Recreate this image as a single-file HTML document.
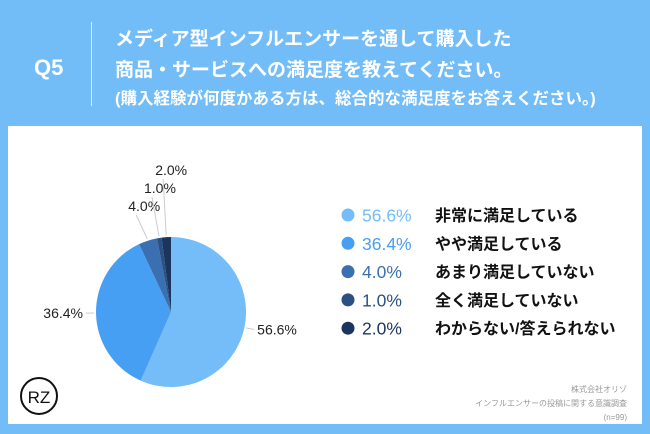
<!DOCTYPE html>
<html><head><meta charset="utf-8"><style>
body{margin:0;width:650px;height:434px;background:#72bdf8;overflow:hidden;font-family:"Liberation Sans","Noto Sans CJK JP",sans-serif;position:relative}
.a{position:absolute;white-space:nowrap}
</style></head><body>
<div class="a" style="left:34px;top:55px;color:#fff;font-size:22px;font-weight:bold">Q5</div>
<div class="a" style="left:91px;top:22px;width:1px;height:84px;background:#d6ecfd"></div>
<div class="a" style="left:115px;top:24px;color:#fff;font-size:19px;font-weight:bold;line-height:31px">メディア型インフルエンサーを通して購入した<br>商品・サービスへの満足度を教えてください。</div>
<div class="a" style="left:115px;top:85px;color:#fff;font-size:16.5px;font-weight:bold">(購入経験が何度かある方は、総合的な満足度をお答えください。)</div>
<div class="a" style="left:8px;top:126px;width:634px;height:298px;background:#fff"></div>
<svg class="a" style="left:0;top:0" width="650" height="434" id="svg"></svg>
<div class="a" style="right:23px;top:383px;text-align:right;color:#999;font-size:8px;line-height:14px">株式会社オリゾ<br>インフルエンサーの投稿に関する意識調査<br>(n=99)</div>
<script>
const categories=["非常に満足している","やや満足している","あまり満足していない","全く満足していない","わからない/答えられない"];
const values=[56.6,36.4,4.0,1.0,2.0];
const colors=["#74bdf8","#479ff4","#3a70b0","#2b5183","#1c355f"];
const svg=document.getElementById('svg');const NS="http://www.w3.org/2000/svg";
const cx=171,cy=312,r=75;
const total=values.reduce((a,b)=>a+b,0);
function pt(ang,rad){return [cx+rad*Math.sin(ang),cy-rad*Math.cos(ang)];}
let start=0;
values.forEach((v,i)=>{
 const a0=start/total*2*Math.PI,a1=(start+v)/total*2*Math.PI;start+=v;
 const p0=pt(a0,r),p1=pt(a1,r);
 const path=document.createElementNS(NS,'path');
 path.setAttribute('d',`M${cx},${cy}L${p0[0]},${p0[1]}A${r},${r} 0 ${a1-a0>Math.PI?1:0} 1 ${p1[0]},${p1[1]}Z`);
 path.setAttribute('fill',colors[i]);
 
 
 svg.appendChild(path);
 const mid=(a0+a1)/2;
 const small=v<10;
 const l0=pt(mid,r+2);
 const l1=small?[l0[0]-(4-i)*4-3,cy-r-22-(i-2)*18]:pt(mid,r+10);
 const ln=document.createElementNS(NS,'line');
 ln.setAttribute('x1',l0[0]);ln.setAttribute('y1',l0[1]);ln.setAttribute('x2',l1[0]);ln.setAttribute('y2',l1[1]);
 ln.setAttribute('stroke','#ccc');ln.setAttribute('stroke-width','1');
 
 
 svg.appendChild(ln);
 const t=document.createElementNS(NS,'text');
 t.textContent=v.toFixed(1)+'%';
 t.setAttribute('font-size','14');t.setAttribute('fill','#222');
 if(small){t.setAttribute('x',l1[0]+8);t.setAttribute('y',l1[1]-4);t.setAttribute('text-anchor','middle');}
 else{const right=Math.sin(mid)>0;t.setAttribute('x',l1[0]+(right?3:-3));t.setAttribute('y',l1[1]+5);t.setAttribute('text-anchor',right?'start':'end');}
 
 
 svg.appendChild(t);
});
categories.forEach((c,i)=>{
 const y=215+i*28.3;
 const d=document.createElementNS(NS,'circle');
 d.setAttribute('cx',348);d.setAttribute('cy',y);d.setAttribute('r',6.5);d.setAttribute('fill',colors[i]);
 
 
 svg.appendChild(d);
 const p=document.createElementNS(NS,'text');
 p.textContent=values[i].toFixed(1)+'%';
 p.setAttribute('x',362);p.setAttribute('y',y+6.5);p.setAttribute('font-size','17.5');p.setAttribute('fill',colors[i]);
 
 
 svg.appendChild(p);
 const l=document.createElementNS(NS,'text');
 l.textContent=c;
 l.setAttribute('x',435);l.setAttribute('y',y+6);l.setAttribute('font-size','16');l.setAttribute('font-weight','bold');l.setAttribute('fill','#111');
 
 
 svg.appendChild(l);
});
</script>
<svg class="a" style="left:19px;top:376px" width="40" height="40">
<circle cx="20" cy="20" r="18" fill="none" stroke="#111" stroke-width="2"/>
<text x="20" y="27" font-size="17" text-anchor="middle" fill="#111" font-family="Liberation Sans">RZ</text>
</svg>
</body></html>
